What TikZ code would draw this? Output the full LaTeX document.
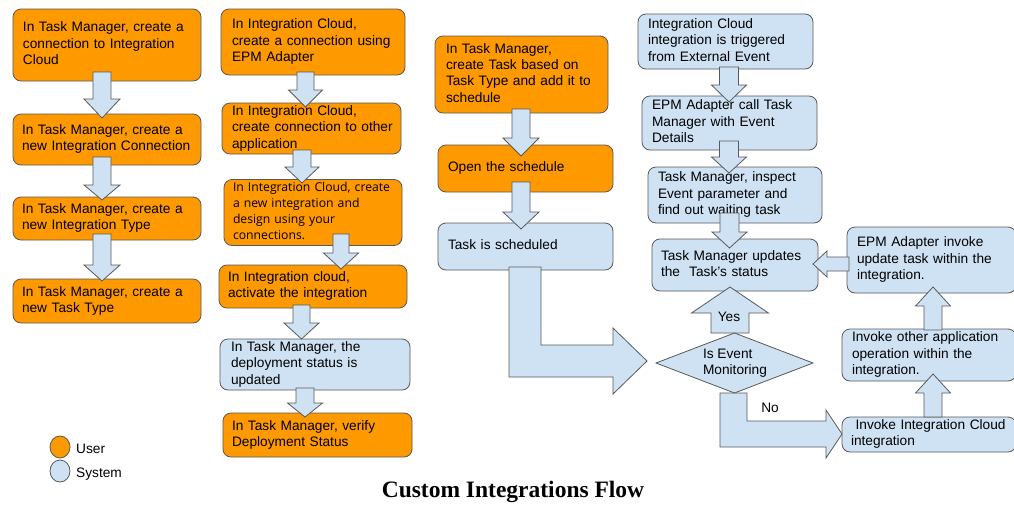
\documentclass[tikz,border=0pt]{standalone}
\usepackage{fontspec}
\setmainfont{Liberation Sans}
\newfontfamily\titlefont{Liberation Serif}
\newfontfamily\osfont{Open Sans}
\usetikzlibrary{shapes.geometric}
\definecolor{uorange}{HTML}{FF9900}
\definecolor{sblue}{HTML}{CFE2F3}
\definecolor{edgegray}{HTML}{595959}
\newcommand{\boxlines}[1]{\begin{tabular}{@{}l@{}}#1\end{tabular}}
\newcommand{\mainsz}{\fontsize{13.7}{16.3}\selectfont}
\newcommand{\darr}[6]{\filldraw[barrow] ({#1-#5},#2) -- ({#1+#5},#2) -- ({#1+#5},#3) -- ({#1+#6},#3) -- (#1,#4) -- ({#1-#6},#3) -- ({#1-#5},#3) -- cycle;}
\begin{document}
\begin{tikzpicture}[x=1pt,y=-1pt,
  box/.style={draw=edgegray, line width=0.8pt, rounded corners=8pt, align=left, inner ysep=1pt, font=\mainsz, text=black},
  ubox/.style={box, fill=uorange},
  sbox/.style={box, fill=sblue},
  barrow/.style={draw=edgegray, fill=sblue, line width=0.8pt, line join=miter},
  lbl/.style={font=\mainsz, inner sep=0pt, text=black}]
\clip (0,0) rectangle (1014,504);
\fill[white] (0,0) rectangle (1014,504);

% column A
\node[ubox, minimum width=188pt, minimum height=72pt, text width=168pt, inner xsep=10pt] (a1) at (107,45) {\boxlines{In Task Manager, create a\\connection to Integration\\Cloud}};
\node[ubox, minimum width=188pt, minimum height=51pt, text width=170pt, inner xsep=9pt] (a2) at (107,139.5) {\boxlines{In Task Manager, create a\\new Integration Connection}};
\node[ubox, minimum width=188pt, minimum height=43pt, text width=170pt, inner xsep=9pt] (a3) at (107,218.5) {\boxlines{In Task Manager, create a\\new Integration Type}};
\node[ubox, minimum width=188pt, minimum height=44pt, text width=170pt, inner xsep=9pt] (a4) at (107,301) {\boxlines{In Task Manager, create a\\new Task Type}};

% column B
\node[ubox, minimum width=184pt, minimum height=66pt, text width=162pt, inner xsep=11pt] (b1) at (313,42) {\boxlines{In Integration Cloud,\\create a connection using\\EPM Adapter}};
\node[ubox, minimum width=179pt, minimum height=51pt, text width=159pt, inner xsep=10pt] (b2) at (311.5,128.5) {\boxlines{In Integration Cloud,\\create connection to other\\application}};
\node[ubox, minimum width=178pt, minimum height=65pt, text width=160pt, inner xsep=9pt, font=\osfont\fontsize{12.2}{16}\selectfont] (b3) at (313,212.5) {\boxlines{In Integration Cloud, create\\a new integration and\\design using your\\connections.}};
\node[ubox, minimum width=188pt, minimum height=43pt, text width=170pt, inner xsep=9pt] (b4) at (313,286.5) {\boxlines{In Integration cloud,\\activate the integration}};
\node[sbox, minimum width=190pt, minimum height=51pt, text width=168pt, inner xsep=11pt] (b5) at (315,364.5) {\boxlines{In Task Manager, the\\deployment status is\\updated}};
\node[ubox, minimum width=189pt, minimum height=44pt, text width=171pt, inner xsep=9pt] (b6) at (317.5,435) {\boxlines{In Task Manager, verify\\Deployment Status}};

% column C
\node[ubox, minimum width=173pt, minimum height=77pt, text width=151pt, inner xsep=11pt] (c1) at (521.5,74.5) {\boxlines{In Task Manager,\\create Task based on\\Task Type and add it to\\schedule}};
\node[ubox, minimum width=175pt, minimum height=47pt, text width=155pt, inner xsep=10pt] (c2) at (525.5,168.5) {\boxlines{Open the schedule}};
\node[sbox, minimum width=175pt, minimum height=47pt, text width=155pt, inner xsep=10pt] (c3) at (525.5,246.5) {\boxlines{Task is scheduled}};

% column D
\node[sbox, minimum width=175pt, minimum height=55pt, text width=155pt, inner xsep=10pt] (d1) at (725.5,41.5) {\boxlines{Integration Cloud\\integration is triggered\\from External Event}};
\node[sbox, minimum width=175pt, minimum height=54pt, text width=155pt, inner xsep=10pt] (d2) at (729.5,123) {\boxlines{EPM Adapter call Task\\Manager with Event\\Details}};
\node[sbox, minimum width=174pt, minimum height=56pt, text width=154pt, inner xsep=10pt] (d3) at (735,195) {\boxlines{Task Manager, inspect\\Event parameter and\\find out waiting task}};
\node[sbox, minimum width=166pt, minimum height=52pt, text width=148pt, inner xsep=9pt] (d4) at (735,265) {\boxlines{Task Manager updates\\the\ \ Task’s status}};

% column E
\node[sbox, minimum width=169pt, minimum height=66pt, text width=149pt, inner xsep=10pt] (e1) at (931.5,260) {\boxlines{EPM Adapter invoke\\update task within the\\integration.}};
\node[sbox, minimum width=174pt, minimum height=52pt, text width=154pt, inner xsep=10pt] (e2) at (929,355) {\boxlines{Invoke other application\\operation within the\\integration.}};
\node[sbox, minimum width=174pt, minimum height=35pt, text width=156pt, inner xsep=9pt] (e3) at (929,434.5) {\boxlines{\ Invoke Integration Cloud\\integration}};

% block arrows
\darr{102}{72}{99}{118}{9}{18}
\darr{102}{157}{185}{200}{9}{18}
\darr{102}{234}{265}{281}{9}{18}
\darr{305.5}{72}{90}{107}{8.5}{17}
\darr{302}{150}{167}{183}{9}{17}
\darr{341}{234}{253}{269}{8}{17.5}
\darr{301.5}{305}{323}{339}{8.5}{17.5}
\darr{305}{388}{403}{417}{9}{17.5}
\darr{521}{109}{138}{156}{9}{18}
\darr{521}{182}{212}{229}{9}{18}
\darr{729}{67}{85}{102}{9.5}{17.5}
\darr{729}{141}{157}{173}{9.5}{17.5}
\darr{729.5}{213}{232}{248}{9.5}{17.5}
\darr{730}{333}{313}{287}{19}{38.5}
\darr{933}{330}{306}{287}{9}{17.5}
\darr{933}{417}{393}{374}{9}{17.5}
% left arrow E1 -> D4
\filldraw[barrow] (849,257) -- (827,257) -- (827,251) -- (813,264) -- (827,277) -- (827,271) -- (849,271) -- cycle;
% big L arrow
\filldraw[barrow] (509,267) -- (541,267) -- (541,345) -- (613,345) -- (613,328) -- (647,361) -- (613,394) -- (613,377) -- (509,377) -- cycle;
% No arrow
\filldraw[barrow] (720,393) -- (747,393) -- (747,421) -- (826,421) -- (826,410) -- (842,434) -- (826,458) -- (826,447) -- (720,447) -- cycle;

% decision diamond
\coordinate (dc) at (734.5,363);
\filldraw[barrow] (dc) ++(-78.5,0) -- ++(78.5,-30) -- ++(78.5,30) -- ++(-78.5,30) -- cycle;
\node[font=\mainsz, align=left, inner sep=0pt] (dia) at (735,363) {Is Event\\Monitoring};

\node[lbl] (yes) at (729,317) {Yes};
\node[lbl] (no) at (770,408) {No};

% legend
\node[ellipse, draw=edgegray, line width=0.8pt, fill=uorange, minimum width=20pt, minimum height=22pt, inner sep=0pt] (lu) at (60,447) {};
\node[ellipse, draw=edgegray, line width=0.8pt, fill=sblue, minimum width=20pt, minimum height=22pt, inner sep=0pt] (ls) at (60,471) {};
\node[lbl, anchor=base west] (lut) at (76,453) {User};
\node[lbl, anchor=base west] (lst) at (76,477) {System};

% title
\node[font=\titlefont\bfseries\fontsize{23.5}{28}\selectfont, anchor=base, inner sep=0pt] (title) at (513,497) {Custom Integrations Flow};
\end{tikzpicture}
\end{document}
